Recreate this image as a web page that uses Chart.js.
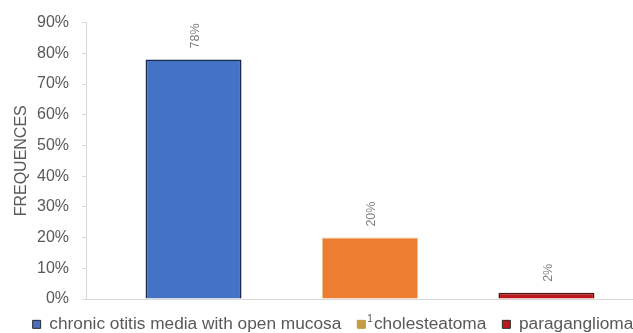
<!DOCTYPE html>
<html>
<head>
<meta charset="utf-8">
<script src="https://cdn.jsdelivr.net/npm/chart.js@4.4.1/dist/chart.umd.min.js"></script>
<style>
  html, body { margin: 0; padding: 0; background: #ffffff; overflow: hidden; }
  #wrap { width: 667px; height: 343px; position: relative; }
</style>
</head>
<body>
<div id="wrap"><canvas id="c" width="667" height="343"></canvas></div>
<script>
const categories = ['1'];
const seriesNames = ['chronic otitis media with open mucosa', 'cholesteatoma', 'paraganglioma'];
const seriesValues = [78, 20, 2];
const seriesColors = ['#4472C4', '#ED7D31', '#C0161D'];
const seriesBorders = ['#1C2A4D', '#E9C48C', '#4A1010'];
const legendColors = ['#4A6FC0', '#C49A42', '#C0161D'];
const yMin = 0, yMax = 90, yStep = 10;

const FONT = "'Liberation Sans', Arial, sans-serif";
const GREY = '#595959';

const valueLabels = {
  id: 'valueLabels',
  afterDatasetsDraw(chart) {
    const ctx = chart.ctx;
    ctx.save();
    ctx.font = '12.5px ' + FONT;
    ctx.fillStyle = '#808080';
    ctx.textAlign = 'left';
    ctx.textBaseline = 'middle';
    chart.data.datasets.forEach((ds, i) => {
      const meta = chart.getDatasetMeta(i);
      meta.data.forEach((bar, j) => {
        ctx.save();
        ctx.translate(bar.x + 2, bar.y - 11);
        ctx.rotate(-Math.PI / 2);
        ctx.fillText(ds.data[j] + '%', 0, 0);
        ctx.restore();
      });
    });
    ctx.restore();
  }
};

// category tick label drawn from the x scale (it overlaps the legend row in the original)
const categoryLabels = {
  id: 'categoryLabels',
  afterDraw(chart) {
    const xs = chart.scales.x;
    const ctx = chart.ctx;
    ctx.save();
    ctx.font = '10px ' + FONT;
    ctx.fillStyle = GREY;
    ctx.textAlign = 'center';
    ctx.textBaseline = 'middle';
    xs.ticks.forEach((t, i) => {
      ctx.fillText(xs.getLabelForValue(t.value), xs.getPixelForTick(i), xs.top + 20);
    });
    ctx.restore();
  }
};

new Chart(document.getElementById('c'), {
  type: 'bar',
  data: {
    labels: categories,
    datasets: seriesNames.map((name, i) => ({
      label: name,
      data: [seriesValues[i]],
      backgroundColor: seriesColors[i],
      borderColor: seriesBorders[i],
      borderWidth: i === 1 ? 1 : 1.6,
      categoryPercentage: 0.932,
      barPercentage: 0.544
    }))
  },
  options: {
    responsive: false,
    animation: false,
    devicePixelRatio: 1,
    layout: { padding: { top: 21, left: 12, right: 13, bottom: 0 } },
    plugins: {
      tooltip: { enabled: false },
      legend: {
        position: 'bottom',
        labels: {
          font: { family: FONT, size: 17.3 },
          color: GREY,
          boxWidth: 8,
          boxHeight: 8,
          padding: 16,
          generateLabels(chart) {
            return chart.data.datasets.map((ds, i) => ({
              text: ds.label,
              fillStyle: legendColors[i],
              strokeStyle: i === 1 ? legendColors[i] : '#2a2a2a',
              lineWidth: 1,
              fontColor: GREY,
              datasetIndex: i,
              hidden: false
            }));
          }
        }
      }
    },
    scales: {
      x: {
        afterFit(scale) { scale.height = 0.7; },
        grid: { display: false, drawTicks: false },
        border: { display: true, color: '#D9D9D9', width: 1 },
        ticks: { display: false }
      },
      y: {
        min: yMin,
        max: yMax,
        afterFit(scale) { scale.width = 74; },
        grid: { drawOnChartArea: false, drawTicks: true, tickLength: 4, color: '#D9D9D9' },
        border: { display: true, color: '#D9D9D9', width: 1 },
        ticks: {
          stepSize: yStep,
          font: { family: FONT, size: 16 },
          color: GREY,
          padding: 13,
          callback: v => v + '%'
        },
        title: {
          display: true,
          text: 'FREQUENCES',
          font: { family: FONT, size: 16 },
          color: GREY,
          padding: { top: 0, bottom: 0 }
        }
      }
    }
  },
  plugins: [valueLabels, categoryLabels]
});
</script>
</body>
</html>
